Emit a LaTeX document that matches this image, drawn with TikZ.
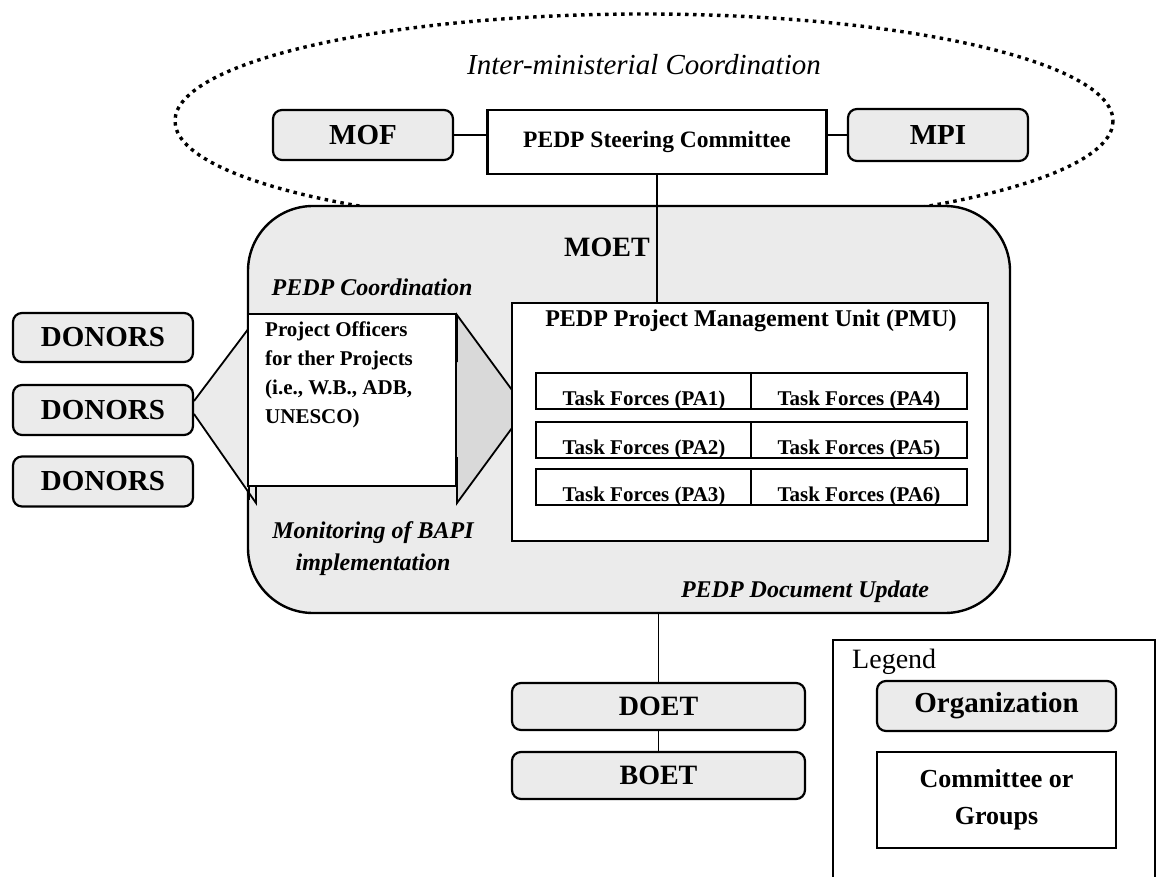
\documentclass[tikz,border=0pt]{standalone}
\usepackage{fontspec}
\setmainfont{Liberation Serif}
\definecolor{orgfill}{gray}{0.92}
\definecolor{wedgefill}{gray}{0.85}
\tikzset{
  org/.style={draw, line width=2.2pt, rounded corners=9pt, fill=orgfill, inner sep=0pt,
    font=\bfseries\fontsize{29}{34}\selectfont},
  grp/.style={draw, line width=2.2pt, fill=white, inner sep=0pt},
  cell/.style={grp, line width=2pt, minimum width=216pt, minimum height=36pt,
    inner xsep=0pt, inner ysep=3.5pt, text height=28.5pt, text depth=0.5pt,
    font=\bfseries\fontsize{21}{25}\selectfont},
  lbl/.style={inner sep=0pt, align=center},
  conn/.style={line width=1.8pt},
  zone/.style={line width=3.4pt, dash pattern=on 3.5pt off 4.5pt},
}
\begin{document}
\begin{tikzpicture}[x=1pt,y=-1pt]
\useasboundingbox (0,0) rectangle (1156,877);

% inter-ministerial zone
\draw[zone] (644,121) ellipse [x radius=469, y radius=107];
\node[lbl, font=\itshape\fontsize{29}{34}\selectfont] (imc) at (644,65) {Inter-ministerial Coordination};
\node[org, minimum width=180pt, minimum height=50pt] (mof) at (363,135) {MOF};
\node[grp, minimum width=339pt, minimum height=64pt, font=\bfseries\fontsize{23.5}{28}\selectfont] (steer) at (657,142) {PEDP Steering Committee};
\node[org, minimum width=180pt, minimum height=52pt] (mpi) at (938,135) {MPI};

% ministry of education
\node[org, line width=2.4pt, rounded corners=65pt, minimum width=762pt, minimum height=407pt] (moet) at (629,409.5) {};
\node[lbl, font=\bfseries\fontsize{28}{34}\selectfont] (moetlabel) at (607,247) {MOET};
\node[lbl, font=\bfseries\itshape\fontsize{24}{30}\selectfont] (coord) at (372,287) {PEDP Coordination};
\node[lbl, font=\bfseries\itshape\fontsize{24}{32}\selectfont] (monitor) at (373,549) {Monitoring of BAPI\\implementation};
\node[lbl, font=\bfseries\itshape\fontsize{24}{30}\selectfont] (docupd) at (805,592) {PEDP Document Update};

% callout wedges round the project officers box
\fill[orgfill] (249,328) -- (194,401) -- (194,414) -- (256,503) -- (256,486) -- cycle;
\draw[conn] (249,328) -- (194,401);
\draw[conn] (194,414) -- (256,503) -- (256,487);
\draw[conn] (249,486) -- (249,500);
\fill[wedgefill] (457,315) -- (512,390) -- (512,428) -- (457,503) -- cycle;
\draw[conn] (457,362) -- (457,315) -- (512,390);
\draw[conn] (512,428) -- (457,503) -- (457,457);

\node[grp, minimum width=208pt, minimum height=172pt] (officers) at (352,400) {};
\node[anchor=north west, align=left, inner sep=0pt, font=\bfseries\fontsize{21}{29}\selectfont] (offtext) at (265,322)
  {Project Officers\\for ther Projects\\(i.e., W.B., ADB,\\UNESCO)};

% donors
\node[org, minimum width=180pt, minimum height=49pt] (donor1) at (103,337.5) {DONORS};
\node[org, minimum width=180pt, minimum height=50pt] (donor2) at (103,410) {DONORS};
\node[org, minimum width=180pt, minimum height=50pt] (donor3) at (103,481.5) {DONORS};

% project management unit
\node[grp, minimum width=476pt, minimum height=238pt] (pmu) at (750,422) {};
\node[lbl, font=\bfseries\fontsize{24}{30}\selectfont] (pmutitle) at (751,321) {PEDP Project Management Unit (PMU)};
\node[cell] (pa1) at (644,391) {Task Forces (PA1)};
\node[cell] (pa2) at (644,440) {Task Forces (PA2)};
\node[cell] (pa3) at (644,487) {Task Forces (PA3)};
\node[cell] (pa4) at (859,391) {Task Forces (PA4)};
\node[cell] (pa5) at (859,440) {Task Forces (PA5)};
\node[cell] (pa6) at (859,487) {Task Forces (PA6)};

% provincial and district levels
\node[org, minimum width=293pt, minimum height=47pt, font=\bfseries\fontsize{28}{34}\selectfont] (doet) at (658.5,706.5) {DOET};
\node[org, minimum width=293pt, minimum height=47pt, font=\bfseries\fontsize{28}{34}\selectfont] (boet) at (658.5,775.5) {BOET};

% legend
\node[grp, line width=2pt, minimum width=322pt, minimum height=260pt] (legend) at (994,770) {};
\node[anchor=west, inner sep=0pt, font=\fontsize{28}{34}\selectfont] (legendtitle) at (852,662) {Legend};
\node[org, minimum width=239pt, minimum height=50pt] (legorg) at (996.5,706) {Organization};
\node[grp, minimum width=239pt, minimum height=96pt, align=center, font=\bfseries\fontsize{26}{37}\selectfont] (leggrp) at (996.5,800) {Committee or\\Groups};

% connectors
\draw[conn] (mof.east) -- (mof.east -| steer.west);
\draw[conn] (mpi.west) -- (mpi.west -| steer.east);
\draw[conn] (steer.south) -- (steer.south |- pmu.north);
\draw[conn] (doet.north) -- (doet.north |- moet.south);
\draw[conn] (doet.south) -- (boet.north);
\end{tikzpicture}
\end{document}
